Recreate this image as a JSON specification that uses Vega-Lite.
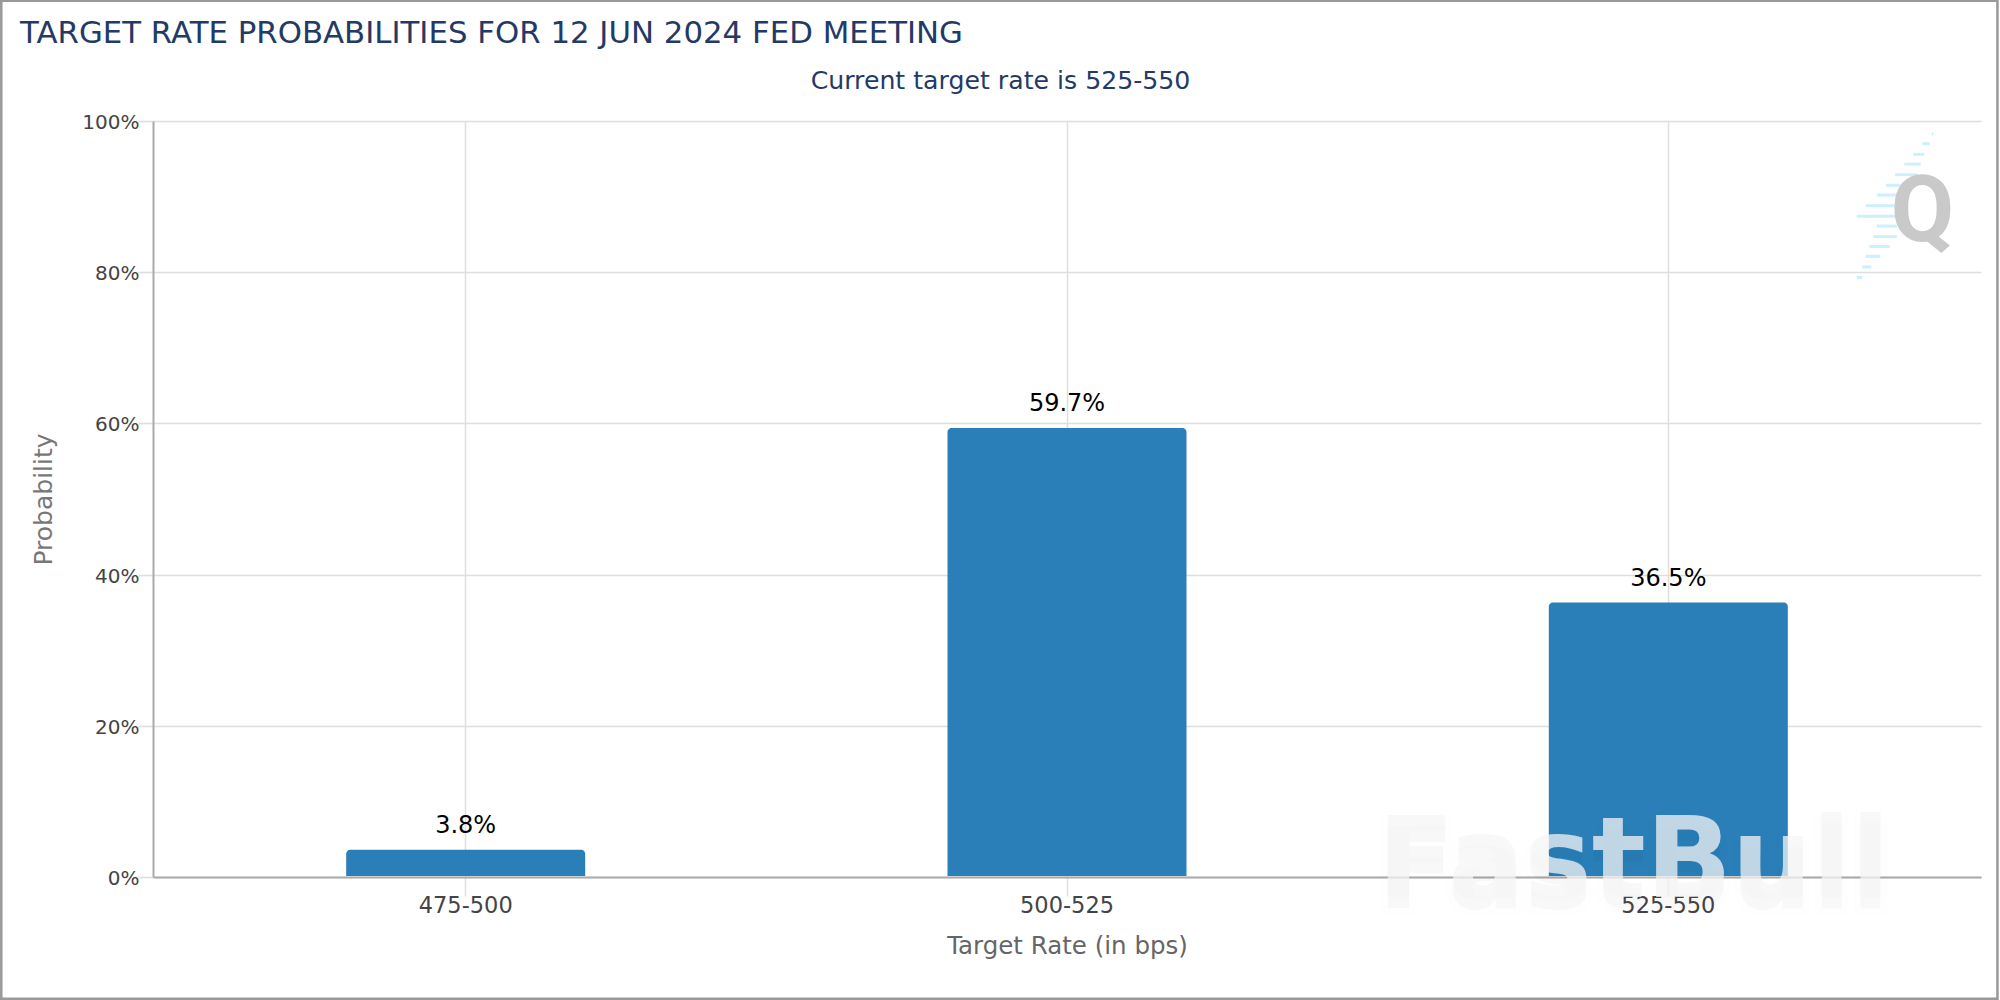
{
  "$schema": "https://vega.github.io/schema/vega-lite/v6.json",
  "width": 1828,
  "height": 756,
  "autosize": "none",
  "padding": {"left": 153, "top": 121, "right": 19, "bottom": 123},
  "background": "white",
  "title": {
    "text": "TARGET RATE PROBABILITIES FOR 12 JUN 2024 FED MEETING",
    "anchor": "start",
    "frame": "group",
    "dx": -133,
    "dy": 77.5,
    "offset": 27,
    "font": "DejaVu Sans",
    "fontSize": 30.8,
    "fontWeight": "normal",
    "color": "#243a66"
  },
  "config": {
    "view": {"stroke": null},
    "font": "DejaVu Sans"
  },
  "resolve": {"scale": {"x": "independent"}, "axis": {"y": "independent"}},
  "layer": [
    {
      "data": {"values": [
        {"rate": "475-500", "probability": 3.6, "label": "3.8%"},
        {"rate": "500-525", "probability": 59.4, "label": "59.7%"},
        {"rate": "525-550", "probability": 36.3, "label": "36.5%"}
      ]},
      "encoding": {
        "x": {
          "field": "rate",
          "type": "nominal",
          "scale": {"paddingInner": 0, "paddingOuter": 0.02},
          "axis": {
            "title": "Target Rate (in bps)",
            "titleFont": "DejaVu Sans",
            "titleFontSize": 24.5,
            "titleFontWeight": "normal",
            "titleColor": "#666666",
            "titlePadding": 18,
            "labelAngle": 0,
            "labelFontSize": 22.5,
            "labelColor": "#444444",
            "labelPadding": -2,
            "grid": true,
            "gridColor": "#dedede",
            "gridWidth": 1.5,
            "tickColor": "#dedede",
            "tickWidth": 1.5,
            "tickSize": 19,
            "domainColor": "#aaaaaa",
            "domainWidth": 2
          }
        },
        "y": {
          "field": "probability",
          "type": "quantitative",
          "scale": {"domain": [0, 100], "nice": false},
          "axis": {
            "title": "Probability",
            "titleFont": "DejaVu Sans",
            "titleFontSize": 25,
            "titleFontWeight": "normal",
            "titleColor": "#777777",
            "titleX": -97,
            "values": [0, 20, 40, 60, 80, 100],
            "labelExpr": "datum.value + '%'",
            "labelFontSize": 20,
            "labelColor": "#444444",
            "labelPadding": -1,
            "labelOffset": 1.5,
            "grid": true,
            "gridColor": "#dedede",
            "gridWidth": 1.6,
            "tickColor": "#dedede",
            "tickWidth": 1.6,
            "tickSize": 15,
            "domainColor": "#aaaaaa",
            "domainWidth": 2
          }
        }
      },
      "layer": [
        {
          "mark": {"type": "bar", "size": 239, "color": "#2a7fb8", "cornerRadiusTopLeft": 4, "cornerRadiusTopRight": 4},
          "encoding": {"y2": {"datum": 0.13}}
        },
        {
          "mark": {"type": "text", "dy": -24, "fontSize": 24, "color": "#000000"},
          "encoding": {"text": {"field": "label"}}
        }
      ]
    },
    {
      "encoding": {
        "x": {
          "field": "a",
          "type": "quantitative",
          "scale": {"domain": [0, 100]},
          "axis": {
            "orient": "top",
            "title": "Current target rate is 525-550",
            "titleFont": "DejaVu Sans",
            "titleFontSize": 25.2,
            "titleFontWeight": "normal",
            "titleColor": "#243a66",
            "titleX": 847,
            "titleY": -41,
            "titleBaseline": "middle",
            "titleAlign": "center",
            "ticks": false,
            "labels": false,
            "domain": false,
            "grid": false
          }
        },
        "y": {"field": "v", "type": "quantitative", "axis": null}
      },
      "layer": [
        {
          "data": {"values": [{"a": -8.3, "b": 100.9, "v": 115.9, "w": -16.1}]},
          "mark": {"type": "rect", "fill": null, "stroke": "#999999", "strokeWidth": 2.5},
          "encoding": {"x2": {"field": "b"}, "y2": {"field": "w"}}
        },
        {
          "data": {"values": [
            {"a": 97.3, "b": 97.4, "v": 98.3},
            {"a": 96.8, "b": 97.2, "v": 97.0},
            {"a": 96.3, "b": 96.9, "v": 95.6},
            {"a": 95.8, "b": 96.7, "v": 94.3},
            {"a": 95.3, "b": 96.5, "v": 92.9},
            {"a": 94.8, "b": 95.6, "v": 91.5},
            {"a": 94.3, "b": 95.4, "v": 90.2},
            {"a": 93.7, "b": 95.4, "v": 88.8},
            {"a": 93.2, "b": 95.4, "v": 87.4},
            {"a": 94.3, "b": 95.4, "v": 86.1},
            {"a": 94.1, "b": 95.4, "v": 84.7},
            {"a": 93.9, "b": 95.0, "v": 83.4},
            {"a": 93.7, "b": 94.5, "v": 82.1},
            {"a": 93.5, "b": 94.0, "v": 80.7},
            {"a": 93.2, "b": 93.5, "v": 79.3}
          ]},
          "mark": {"type": "rule", "color": "#cdf0fd", "strokeWidth": 3},
          "encoding": {"x2": {"field": "b"}}
        },
        {
          "data": {"values": [{"a": 96.8, "v": 87.8, "t": "Q"}]},
          "mark": {"type": "text", "font": "Roboto", "fontWeight": "bold", "fontSize": 92, "color": "#c9c9c9", "baseline": "middle"},
          "encoding": {"text": {"field": "t"}}
        },
        {
          "data": {"values": [{"a": 81.0, "v": 1.3, "t": "FastBull"}]},
          "mark": {"type": "text", "font": "DejaVu Sans", "fontWeight": "bold", "fontSize": 113, "dy": 7, "color": "#000000", "opacity": 0.025, "stroke": "#000000", "strokeWidth": 14, "strokeOpacity": 0.025, "baseline": "middle"},
          "encoding": {"text": {"field": "t"}}
        },
        {
          "data": {"values": [{"a": 81.0, "v": 1.9, "t": "FastBull"}]},
          "mark": {"type": "text", "font": "DejaVu Sans", "fontWeight": "bold", "fontSize": 113, "color": "#f6f6f6", "opacity": 0.74, "baseline": "middle"},
          "encoding": {"text": {"field": "t"}}
        }
      ]
    }
  ]
}
